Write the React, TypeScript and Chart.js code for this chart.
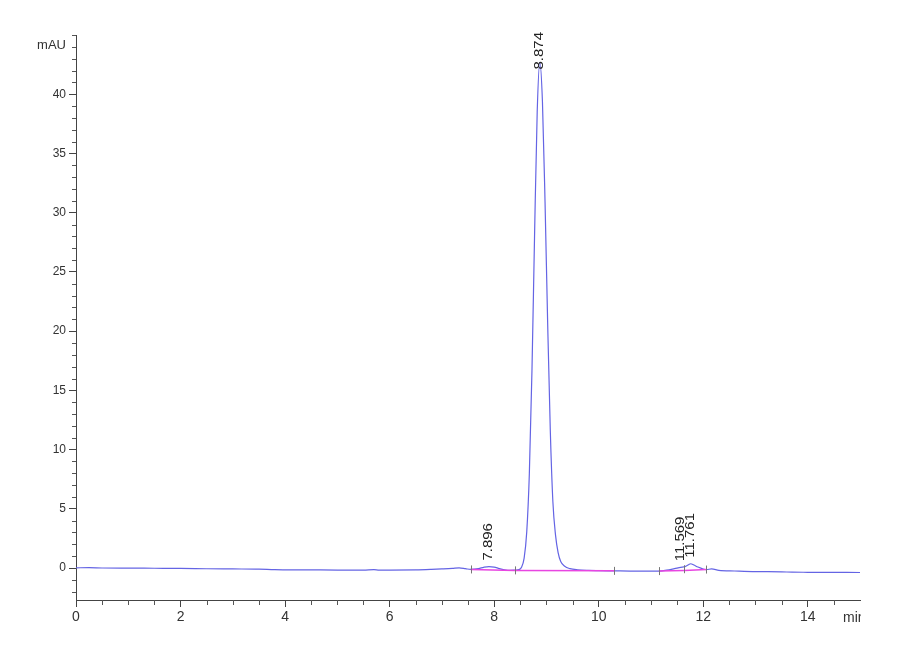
import { useEffect, useRef } from "react";
import { Chart, registerables } from "chart.js";

Chart.register(...registerables);

// Chromatogram trace (retention time in min, absorbance in mAU)
const timeMin = [
  0, 0.25, 0.5, 1.0, 1.5, 2.0, 2.5, 3.0, 3.5, 3.8, 4.0, 4.5, 5.0, 5.5, 5.7,
  5.8, 6.0, 6.5, 6.8, 7.0, 7.2, 7.33, 7.45, 7.55, 7.7, 7.8, 7.9, 8.0, 8.1, 8.2,
  8.3, 8.4, 8.474, 8.524, 8.574, 8.624, 8.674, 8.724, 8.774, 8.824, 8.874,
  8.924, 8.974, 9.024, 9.074, 9.124, 9.174, 9.224, 9.274, 9.35, 9.45, 9.6, 9.8,
  10.0, 10.3, 10.6, 11.0, 11.15, 11.3, 11.45, 11.569, 11.65, 11.72, 11.761,
  11.82, 11.9, 12.0, 12.06, 12.16, 12.3, 12.6, 13.0, 13.5, 13.7, 14.0, 14.5,
  15.0,
];
const signalMau = [
  0.02, 0.03, 0.0, -0.01, -0.02, -0.03, -0.06, -0.08, -0.1, -0.14, -0.15,
  -0.16, -0.17, -0.17, -0.14, -0.17, -0.17, -0.16, -0.12, -0.08, -0.03, 0.02,
  -0.05, -0.12, -0.05, 0.06, 0.12, 0.08, -0.05, -0.15, -0.2, -0.18, -0.14,
  0.07, 0.84, 3.05, 8.0, 16.7, 28.2, 38.5, 42.7, 39.4, 30.9, 20.7, 11.7, 5.6,
  2.8, 1.3, 0.55, 0.15, -0.05, -0.15, -0.2, -0.22, -0.24, -0.26, -0.27, -0.26,
  -0.18, -0.05, 0.06, 0.12, 0.28, 0.36, 0.25, 0.08, -0.08, -0.13, -0.08, -0.2,
  -0.25, -0.3, -0.32, -0.35, -0.36, -0.37, -0.38,
];

// integration baselines (null = gap between segments)
const baselineMin = [7.55, 8.4, 10.3, 10.7, 11.15, 11.64, 12.06];
const baselineMau = [-0.12, -0.2, -0.24, null, -0.26, -0.2, -0.13];

// integration event marks
const eventMin = [7.55, 8.4, 10.3, 11.15, 11.64, 12.06];
const eventMau = [-0.12, -0.2, -0.24, -0.26, -0.1, -0.13];

// labelled peaks
const peakMin = [7.896, 8.874, 11.569, 11.761];
const peakMau = [0.12, 42.7, 0.06, 0.36];

const xMajorTicks = [0, 2, 4, 6, 8, 10, 12, 14];
const yMajorTicks = [0, 5, 10, 15, 20, 25, 30, 35, 40];

const xMinorTicks: number[] = [];
for (let v = 0.5; v < 15; v += 0.5) if (v % 2 !== 0) xMinorTicks.push(v);
const yMinorTicks: number[] = [];
for (let v = -2; v <= 45; v += 1) if (v % 5 !== 0 || v === 45) yMinorTicks.push(v);

const sans = "'Liberation Sans', Arial, sans-serif";
const narrow = "'Liberation Sans Narrow', 'Arial Narrow', 'Liberation Sans', sans-serif";

const decorPlugin = {
  id: "decor",
  afterDatasetsDraw(chart: any) {
    const { ctx, chartArea } = chart;
    const x = chart.scales.x;
    const y = chart.scales.y;
    ctx.save();

    // minor ticks
    ctx.strokeStyle = "#555";
    ctx.lineWidth = 1;
    ctx.beginPath();
    xMinorTicks.forEach((v) => {
      const px = Math.round(x.getPixelForValue(v)) + 0.5;
      ctx.moveTo(px, chartArea.bottom);
      ctx.lineTo(px, chartArea.bottom + 5);
    });
    yMinorTicks.forEach((v) => {
      const py = Math.round(y.getPixelForValue(v)) + 0.5;
      ctx.moveTo(chartArea.left - 4, py);
      ctx.lineTo(chartArea.left, py);
    });
    ctx.stroke();

    // integration event marks
    ctx.strokeStyle = "#777";
    ctx.beginPath();
    eventMin.forEach((t, i) => {
      const px = Math.round(x.getPixelForValue(t)) + 0.5;
      const py = y.getPixelForValue(eventMau[i]);
      ctx.moveTo(px, py - 4);
      ctx.lineTo(px, py + 4);
    });
    ctx.stroke();

    // peak labels, rotated
    ctx.fillStyle = "#222";
    ctx.font = `12px ${sans}`;
    peakMin.forEach((t, i) => {
      const label = t.toFixed(3);
      const len = ctx.measureText(label).width * 1.25;
      const px = x.getPixelForValue(t);
      let bottom = y.getPixelForValue(peakMau[i]) - 6;
      const minTop = chartArea.top - 3;
      if (bottom - len < minTop) bottom = minTop + len;
      ctx.save();
      ctx.translate(px, bottom);
      ctx.rotate(-Math.PI / 2);
      ctx.scale(1.25, 1);
      ctx.textAlign = "left";
      ctx.textBaseline = "middle";
      ctx.fillText(label, 0, 0);
      ctx.restore();
    });

    // unit labels
    ctx.fillStyle = "#333";
    ctx.font = `13px ${narrow}`;
    ctx.textAlign = "right";
    ctx.textBaseline = "middle";
    ctx.fillText("mAU", chartArea.left - 10, chartArea.top + 10);

    ctx.save();
    ctx.beginPath();
    ctx.rect(0, chartArea.bottom, chartArea.right + 1, 60);
    ctx.clip();
    ctx.font = `14px ${narrow}`;
    ctx.textAlign = "left";
    ctx.fillText("min", chartArea.right - 17, chartArea.bottom + 18);
    ctx.restore();

    ctx.restore();
  },
};

const Chromatogram = () => {
  const canvasRef = useRef<HTMLCanvasElement | null>(null);
  const chartRef = useRef<Chart | null>(null);

  useEffect(() => {
    if (!canvasRef.current) return;
    if (chartRef.current) chartRef.current.destroy();

    const trace = timeMin.map((t, i) => ({ x: t, y: signalMau[i] }));
    const baseline = baselineMin.map((t, i) => ({ x: t, y: baselineMau[i] }));

    chartRef.current = new Chart(canvasRef.current, {
      type: "line",
      data: {
        datasets: [
          {
            label: "baseline",
            data: baseline as any,
            borderColor: "rgb(232, 70, 225)",
            borderWidth: 1.5,
            pointRadius: 0,
            spanGaps: false,
            tension: 0,
          },
          {
            label: "signal",
            data: trace,
            borderColor: "rgb(100, 100, 228)",
            borderWidth: 1.2,
            pointRadius: 0,
            cubicInterpolationMode: "monotone",
          },
        ],
      },
      options: {
        responsive: false,
        animation: false,
        layout: { padding: { left: 0, right: 40, top: 35, bottom: 0 } },
        plugins: {
          legend: { display: false },
          tooltip: { enabled: false },
        },
        scales: {
          x: {
            type: "linear",
            min: 0,
            max: 15,
            afterBuildTicks: (scale: any) => {
              scale.ticks = xMajorTicks.map((v) => ({ value: v }));
            },
            afterFit: (scale: any) => {
              scale.height = 60;
            },
            border: { display: true, color: "#444", width: 1 },
            grid: {
              drawOnChartArea: false,
              drawTicks: true,
              tickLength: 7,
              color: "#444",
            },
            ticks: {
              padding: 2,
              color: "#333",
              font: { family: narrow, size: 14 },
              maxRotation: 0,
              callback: (v: any) => String(v),
            },
          },
          y: {
            type: "linear",
            min: -2.7,
            max: 45,
            afterBuildTicks: (scale: any) => {
              scale.ticks = yMajorTicks.map((v) => ({ value: v }));
            },
            afterFit: (scale: any) => {
              scale.width = 76;
            },
            border: { display: true, color: "#444", width: 1 },
            grid: {
              drawOnChartArea: false,
              drawTicks: true,
              tickLength: 7,
              color: "#444",
            },
            ticks: {
              padding: 3,
              color: "#333",
              font: { family: sans, size: 12 },
              callback: (v: any) => String(v),
            },
          },
        },
      },
      plugins: [decorPlugin],
    });

    return () => {
      if (chartRef.current) {
        chartRef.current.destroy();
        chartRef.current = null;
      }
    };
  }, []);

  return (
    <div style={{ position: "absolute", left: 0, top: 0, width: 900, height: 660, background: "#fff" }}>
      <canvas ref={canvasRef} width={900} height={660} />
    </div>
  );
};

export default function App() {
  return <Chromatogram />;
}
